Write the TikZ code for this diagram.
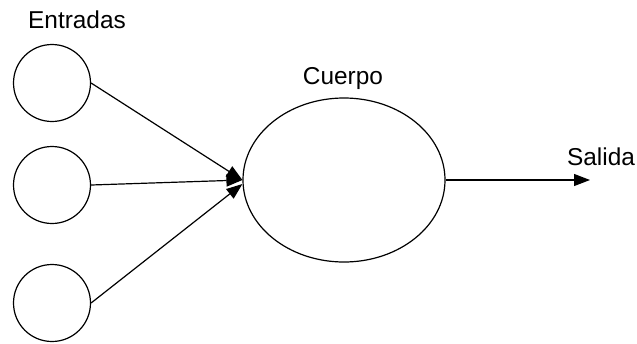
\documentclass[tikz,border=0pt]{standalone}
\usepackage{fontspec}
\setmainfont{Liberation Sans}
\usetikzlibrary{arrows.meta,shapes.geometric}

\begin{document}
\begin{tikzpicture}[x=0.5pt, y=-0.5pt, line width=0.6pt,
    neurona/.style={draw, circle, minimum size=38.5pt, inner sep=0pt},
    cuerpo/.style={draw, ellipse, minimum width=101pt, minimum height=82pt, inner sep=0pt},
    etiqueta/.style={font=\fontsize{12.2}{14}\selectfont},
    flecha/.style={-{Triangle[length=8pt,width=6pt]}}]
    \useasboundingbox (0,0) rectangle (637,343);
    \node[neurona] (E1) at (52,83) {};
    \node[neurona] (E2) at (52,185) {};
    \node[neurona] (E3) at (52,303) {};
    \node[cuerpo] (C) at (344,180) {};
    \coordinate (S) at (590,180);
    \node[etiqueta] (tE) at (77,20) {Entradas};
    \node[etiqueta] (tC) at (343,79) {Cuerpo};
    \node[etiqueta] (tS) at (601,157) {Salida};
    \draw[flecha] (E1.east) -- (C.west);
    \draw[flecha] (E2.east) -- (C.west);
    \draw[flecha] (E3.east) -- ([yshift=-2pt]C.west);
    \draw[flecha] (C.east) -- (S);
\end{tikzpicture}
\end{document}
